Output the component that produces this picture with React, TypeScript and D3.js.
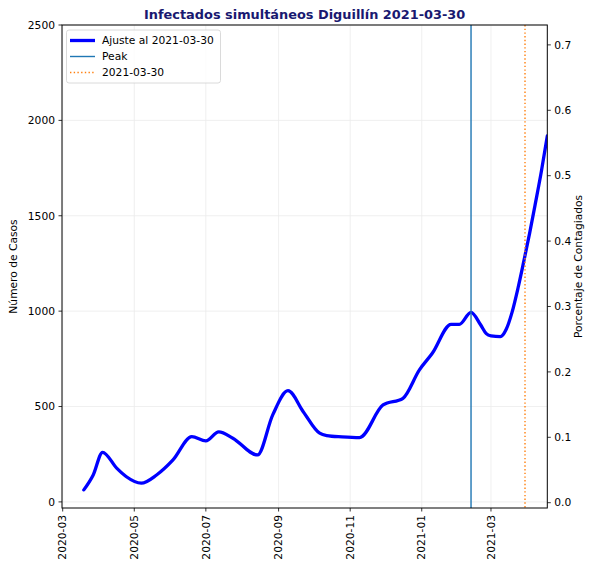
import React from "react";
import * as d3 from "d3";

const dates: string[] = [
  "2020-03-19", "2020-03-27", "2020-04-04", "2020-04-16", "2020-04-24", "2020-05-07",
  "2020-05-20", "2020-06-03", "2020-06-19", "2020-07-01", "2020-07-12", "2020-07-24",
  "2020-08-14", "2020-08-27", "2020-09-09", "2020-09-22", "2020-10-06", "2020-10-12",
  "2020-10-25", "2020-11-09", "2020-11-29", "2020-12-16", "2020-12-30", "2021-01-10",
  "2021-01-26", "2021-02-02", "2021-02-12", "2021-02-20", "2021-02-25", "2021-03-01",
  "2021-03-09", "2021-03-14", "2021-03-19", "2021-03-24", "2021-03-29", "2021-04-03",
  "2021-04-08", "2021-04-13", "2021-04-18",
];
const cases: number[] = [
  63, 141, 260, 177, 133, 98,
  141, 220, 342, 320, 367, 334,
  246, 456, 583, 473, 360, 348,
  341, 337, 508, 543, 692, 779,
  931, 931, 994, 930, 882, 870,
  866, 905, 995, 1120, 1262, 1410,
  1570, 1735, 1918,
];
const leftTicks: number[] = [0, 500, 1000, 1500, 2000, 2500];
const rightTicks: number[] = [0, 0.1, 0.2, 0.3, 0.4, 0.5, 0.6, 0.7];
const xTickLabels: string[] = ["2020-03", "2020-05", "2020-07", "2020-09", "2020-11", "2021-01", "2021-03"];
const peakDate = "2021-02-12";
const refDate = "2021-03-30";
const xStart = "2020-03-01";
const xEnd = "2021-04-18";

const parse = d3.utcParse("%Y-%m-%d");
const parseM = d3.utcParse("%Y-%m");

export default function App() {
  const W = 590, H = 564;
  const L = 62, R = 547.3, T = 25, B = 508;
  const x = d3.scaleUtc().domain([parse(xStart)!, parse(xEnd)!]).range([62.7, 547.3]);
  const y = d3.scaleLinear().domain([-32, 2500]).range([B, T]);
  const y2 = d3.scaleLinear().domain([-0.0081, 0.7304]).range([B, T]);
  const pts: [Date, number][] = dates.map((d, i) => [parse(d)!, cases[i]]);
  const line = d3
    .line<[Date, number]>()
    .x((d) => x(d[0]))
    .y((d) => y(d[1]))
    .curve(d3.curveMonotoneX);
  const font = "DejaVu Sans, sans-serif";
  const fs = 10.7;
  const px = x(parse(peakDate)!);
  const rx = x(parse(refDate)!);
  return (
    <svg width={W} height={H} style={{ position: "absolute", left: 0, top: 0 }} fontFamily={font}>
      <rect width={W} height={H} fill="white" />
      <defs>
        <clipPath id="clip">
          <rect x={L} y={T} width={R - L} height={B - T} />
        </clipPath>
      </defs>
      {/* grid */}
      {xTickLabels.map((t) => {
        const xx = x(parseM(t)!);
        return <line key={"gx" + t} x1={xx} x2={xx} y1={T} y2={B} stroke="#ebebeb" strokeWidth={0.8} />;
      })}
      {leftTicks.map((t) => (
        <line key={"gy" + t} x1={L} x2={R} y1={y(t)} y2={y(t)} stroke="#ebebeb" strokeWidth={0.8} />
      ))}
      {/* data */}
      <g clipPath="url(#clip)">
        <path d={line(pts) || ""} fill="none" stroke="#0000ff" strokeWidth={3.3} strokeLinejoin="round" strokeLinecap="round" />
        <line x1={px} x2={px} y1={T} y2={B} stroke="#1f77b4" strokeWidth={1.4} />
        <line x1={rx} x2={rx} y1={T} y2={B} stroke="#ff7f0e" strokeWidth={1.4} strokeDasharray="1.4,2.3" />
      </g>
      {/* spines */}
      <rect x={L} y={T} width={R - L} height={B - T} fill="none" stroke="#000" strokeWidth={1} />
      {/* left ticks */}
      {leftTicks.map((t) => (
        <g key={"l" + t}>
          <line x1={L - 3.5} x2={L} y1={y(t)} y2={y(t)} stroke="#000" strokeWidth={0.8} />
          <text x={L - 7} y={y(t)} dy="0.35em" textAnchor="end" fontSize={fs} fill="#000">
            {t}
          </text>
        </g>
      ))}
      {/* right ticks */}
      {rightTicks.map((t) => (
        <g key={"r" + t}>
          <line x1={R} x2={R + 3.5} y1={y2(t)} y2={y2(t)} stroke="#000" strokeWidth={0.8} />
          <text x={R + 7} y={y2(t)} dy="0.35em" textAnchor="start" fontSize={fs} fill="#000">
            {t.toFixed(1)}
          </text>
        </g>
      ))}
      {/* x ticks */}
      {xTickLabels.map((t) => {
        const xx = x(parseM(t)!);
        return (
          <g key={"x" + t}>
            <line x1={xx} x2={xx} y1={B} y2={B + 3.5} stroke="#000" strokeWidth={0.8} />
            <text
              transform={`translate(${xx},${B + 7}) rotate(-90)`}
              dy="0.35em"
              textAnchor="end"
              fontSize={fs}
              fill="#000"
            >
              {t}
            </text>
          </g>
        );
      })}
      {/* axis labels */}
      <text transform={`translate(17,${(T + B) / 2}) rotate(-90)`} textAnchor="middle" fontSize={fs} fill="#000">
        Número de Casos
      </text>
      <text transform={`translate(582,${(T + B) / 2}) rotate(-90)`} textAnchor="middle" fontSize={fs} fill="#000">
        Porcentaje de Contagiados
      </text>
      {/* title */}
      <text x={(L + R) / 2} y={T - 6} textAnchor="middle" fontSize={12.9} fontWeight="bold" fill="#191970">
        Infectados simultáneos Diguillín 2021-03-30
      </text>
      {/* legend */}
      <g>
        <rect x={66.5} y={30} width={154} height={53} rx={2.5} fill="white" fillOpacity={0.8} stroke="#d0d0d0" strokeWidth={0.8} />
        <line x1={70} x2={95} y1={40.5} y2={40.5} stroke="#0000ff" strokeWidth={3.3} />
        <text x={102} y={40.5} dy="0.35em" fontSize={fs} fill="#000">Ajuste al 2021-03-30</text>
        <line x1={70} x2={95} y1={56.5} y2={56.5} stroke="#1f77b4" strokeWidth={1.4} />
        <text x={102} y={56.5} dy="0.35em" fontSize={fs} fill="#000">Peak</text>
        <line x1={70} x2={95} y1={72.5} y2={72.5} stroke="#ff7f0e" strokeWidth={1.4} strokeDasharray="1.4,2.3" />
        <text x={102} y={72.5} dy="0.35em" fontSize={fs} fill="#000">2021-03-30</text>
      </g>
    </svg>
  );
}
